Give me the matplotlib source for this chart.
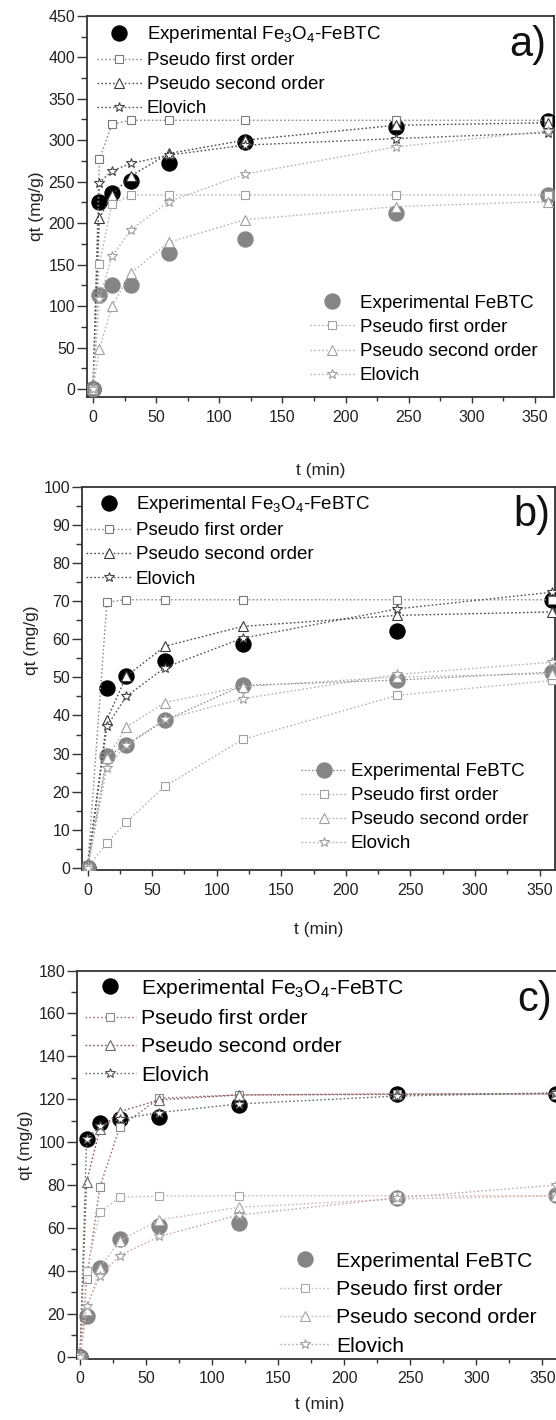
import matplotlib
matplotlib.use('Agg')
import matplotlib.pyplot as plt
from matplotlib.ticker import MultipleLocator

plt.rcParams['font.family'] = ['Liberation Sans', 'DejaVu Sans']
plt.rcParams['mathtext.default'] = 'regular'

# contact times (min)
t = [0, 5, 15, 30, 60, 120, 240, 360]
t_b = [0, 15, 30, 60, 120, 240, 360]

# ---- panel a ----
a_exp_fe = [0, 226, 236, 251, 272, 298, 316, 323]
a_pfo_fe = [0, 277, 319, 324, 324, 324, 324, 324]
a_pso_fe = [0, 206, 234, 257, 284, 300, 318, 321]
a_elo_fe = [0, 249, 263, 272, 282, 294, 302, 309]
a_exp_bt = [0, 113, 126, 126, 164, 181, 212, 234]
a_pfo_bt = [0, 151, 223, 234, 234, 234, 234, 234]
a_pso_bt = [0, 48, 100, 140, 177, 204, 220, 226]
a_elo_bt = [0, 109, 160, 192, 226, 259, 292, 311]

# ---- panel b ----
b_exp_fe = [0, 47.1, 50.5, 54.2, 58.9, 62.1, 70.4]
b_pfo_fe = [0, 69.8, 70.4, 70.4, 70.4, 70.4, 70.4]
b_pso_fe = [0, 38.9, 50.3, 58.2, 63.4, 66.3, 67.2]
b_elo_fe = [0, 37.2, 45.0, 52.6, 60.3, 68.0, 72.4]
b_exp_bt = [0, 29.3, 32.2, 38.7, 47.9, 49.3, 51.4]
b_pfo_bt = [0, 6.5, 12.0, 21.4, 33.7, 45.3, 49.2]
b_pso_bt = [0, 28.7, 37.0, 43.4, 47.6, 50.1, 51.0]
b_elo_bt = [0, 26.2, 32.3, 39.0, 44.4, 50.8, 54.0]

# ---- panel c ----
c_exp_fe = [0, 101.3, 109, 111, 111.6, 117.3, 122.3, 122.5]
c_pfo_fe = [0, 36, 79, 107, 120.5, 122, 122.5, 122.5]
c_pso_fe = [0, 81.6, 106, 114.2, 119.7, 122, 122.3, 122.5]
c_elo_fe = [0, 101.5, 107.5, 110.7, 113.8, 117.8, 121.5, 123]
c_exp_bt = [0, 19, 41.2, 54.7, 60.9, 62.2, 74.1, 75.2]
c_pfo_bt = [0, 40, 67.2, 74.3, 74.9, 75, 75, 75]
c_pso_bt = [0, 21.5, 41.5, 54, 63.7, 69.6, 73.5, 75]
c_elo_bt = [0, 23.6, 37.6, 47.1, 56, 66, 74, 80]

lab_fe = 'Experimental Fe$_3$O$_4$-FeBTC'
lab_bt = 'Experimental FeBTC'
fit_labels = ['Pseudo first order', 'Pseudo second order', 'Elovich']

fig = plt.figure(figsize=(5.56, 14.2), dpi=100)

def panel(rect, x, fe, bt, xlim, ylim, ymaj, ymin, tag, fe_cols, bt_cols,
          leg1, leg2, fs, exp_line_bt, ylab, xlab_y, lsp):
    ax = fig.add_axes(rect)
    ls = (0, (1.2, 1.6))
    # experimental points
    ax.plot(x, fe[0], 'o', color='black', ms=10.8, zorder=3, label=lab_fe)
    if exp_line_bt:
        ax.plot(x, bt[0], 'o', color='#858585', ms=10.8, zorder=3, label=lab_bt,
                ls=ls, lw=0.9, mfc='#858585')
    else:
        ax.plot(x, bt[0], 'o', color='#858585', ms=10.8, zorder=3, label=lab_bt,
                ls='none')
    mks = ['s', '^', '*']
    mss = [5.5, 7.5, 7.5]
    h1 = [ax.lines[0]]
    h2 = [ax.lines[1]]
    for i in range(3):
        l, = ax.plot(x, fe[i + 1], ls=ls, lw=1.0, color=fe_cols[i][0],
                     marker=mks[i], ms=mss[i], mfc='white', mec=fe_cols[i][1],
                     mew=0.8, zorder=4, label=fit_labels[i])
        h1.append(l)
    for i in range(3):
        l, = ax.plot(x, bt[i + 1], ls=ls, lw=1.0, color=bt_cols[i][0],
                     marker=mks[i], ms=mss[i], mfc='white', mec=bt_cols[i][1],
                     mew=0.8, zorder=4, label=fit_labels[i])
        h2.append(l)
    ax.set_xlim(*xlim)
    ax.set_ylim(*ylim)
    ax.xaxis.set_major_locator(MultipleLocator(50))
    ax.xaxis.set_minor_locator(MultipleLocator(25))
    ax.yaxis.set_major_locator(MultipleLocator(ymaj))
    ax.yaxis.set_minor_locator(MultipleLocator(ymin))
    ax.tick_params(axis='y', which='major', direction='out', length=7, width=1,
                   labelsize=11.5, pad=1.5, color='#333333', labelcolor='#222222')
    ax.tick_params(axis='y', which='minor', direction='out', length=4, width=1,
                   color='#333333')
    ax.tick_params(axis='x', which='major', direction='out', length=4, width=1,
                   labelsize=11.5, pad=5, color='#333333', labelcolor='#222222')
    ax.tick_params(axis='x', which='minor', direction='out', length=3, width=1,
                   color='#333333')
    for s in ax.spines.values():
        s.set_linewidth(1.3)
        s.set_color('#333333')
    ax.set_xlabel('t (min)', fontsize=12.5, color='#222222')
    ax.set_ylabel('qt (mg/g)', fontsize=12.5, color='#222222')
    ax.xaxis.set_label_coords(0.5, xlab_y)
    ax.yaxis.set_label_coords(*ylab)
    lg1 = ax.legend(handles=h1, loc='upper left', bbox_to_anchor=leg1,
                    frameon=False, fontsize=fs, handlelength=2.4,
                    handletextpad=0.25, labelspacing=lsp, borderpad=0,
                    borderaxespad=0)
    ax.add_artist(lg1)
    ax.legend(handles=h2, loc='upper left', bbox_to_anchor=leg2,
              frameon=False, fontsize=fs, handlelength=2.4,
              handletextpad=0.25, labelspacing=lsp, borderpad=0,
              borderaxespad=0)
    ax.text(tag[1], tag[2], tag[0], transform=ax.transAxes, fontsize=30,
            ha='center', va='center', color='#111111')
    return ax

grey_fe = [('#8f8f8f', '#7a7a7a'), ('#4a4a4a', '#3a3a3a'), ('#555555', '#444444')]
grey_bt = [('#b5b5b5', '#a0a0a0'), ('#b5b5b5', '#a0a0a0'), ('#b5b5b5', '#a0a0a0')]

panel([0.1565, 0.7204, 0.8399, 0.2685], t,
      [a_exp_fe, a_pfo_fe, a_pso_fe, a_elo_fe],
      [a_exp_bt, a_pfo_bt, a_pso_bt, a_elo_bt],
      (-4.75, 365), (-9.6, 450), 50, 25, ('a)', 0.944, 0.924),
      grey_fe, grey_bt, (0.021, 0.978), (0.4775, 0.268), 13.5, False,
      (-0.093, 0.5), -0.172, 0.37)

panel([0.1475, 0.3873, 0.8507, 0.2697], t_b,
      [b_exp_fe, b_pfo_fe, b_pso_fe, b_elo_fe],
      [b_exp_bt, b_pfo_bt, b_pso_bt, b_elo_bt],
      (-4.3, 362), (-0.6, 100), 10, 5, ('b)', 0.951, 0.927),
      grey_fe, grey_bt, (0.0085, 0.981), (0.463, 0.279), 13.5, True,
      (-0.091, 0.6), -0.135, 0.37)

c_fe = [('#9a7070', '#8a8a8a'), ('#8a5a5a', '#6a6a6a'), ('#5f7070', '#555555')]
c_bt = [('#d0b5b5', '#a8a8a8'), ('#d0b5b5', '#a8a8a8'), ('#c8a8a8', '#a0a0a0')]
panel([0.1385, 0.0430, 0.8723, 0.2735], t,
      [c_exp_fe, c_pfo_fe, c_pso_fe, c_elo_fe],
      [c_exp_bt, c_pfo_bt, c_pso_bt, c_elo_bt],
      (-2.3, 364.8), (-1.1, 180), 20, 10, ('c)', 0.944, 0.923),
      c_fe, c_bt, (0.0165, 0.984), (0.4186, 0.276), 15.2, False,
      (-0.09, 0.55), -0.098, 0.44)

fig.savefig('out.png', dpi=100)
